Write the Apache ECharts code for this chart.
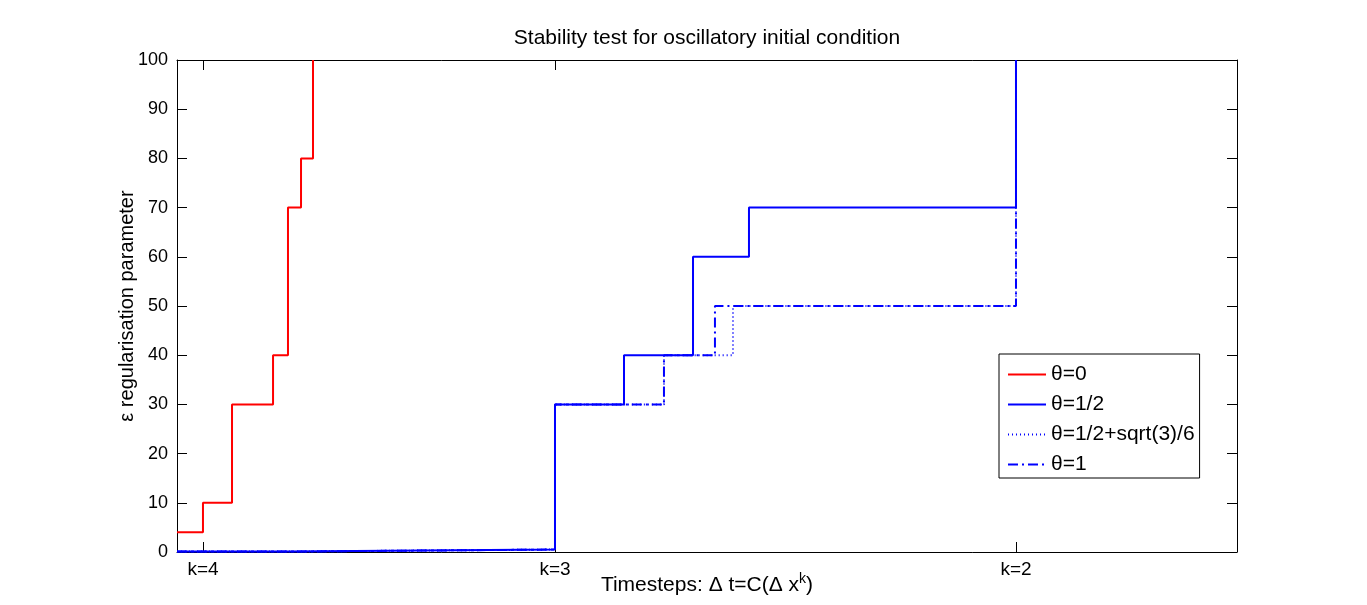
<!DOCTYPE html>
<html>
<head>
<meta charset="utf-8">
<script src="https://cdn.jsdelivr.net/npm/echarts@6/dist/echarts.min.js"></script>
<style>
  html, body { margin:0; padding:0; background:#fff; }
  #chart { width:1367px; height:605px; }
</style>
</head>
<body>
<div id="chart"></div>
<script>
// ---- data (x in plot-position units, 0..100) ----
const kTicks  = [2.45, 35.66, 79.15];
const kLabels = ['k=4', 'k=3', 'k=2'];

const theta0X  = [0, 2.45, 5.19, 9.06, 10.47, 11.70, 12.83];
const theta0Y  = [4, 10, 30, 40, 70, 80, 100];

const halfX    = [0, 10.47, 35.66, 42.17, 48.68, 53.96, 79.15];
const halfY    = [0.1, 0.5, 30, 40, 60, 70, 100];

const sqrtX    = [0, 10.94, 35.66, 45.94, 52.45, 79.15];
const sqrtY    = [0.1, 0.5, 30, 40, 50, 100];

const oneX     = [0, 11.70, 35.66, 45.94, 50.75, 79.15];
const oneY     = [0.1, 0.5, 30, 40, 50, 100];

const FONT = 'Liberation Sans, Arial, sans-serif';
const pairs = (xs, ys) => xs.map((x, i) => [x, ys[i]]);

function stepLine(name, xs, ys, color, type){
  return {
    name, type:'line', step:'end', data:pairs(xs, ys),
    symbol:'none', clip:false, animation:false,
    itemStyle:{ color },
    lineStyle:{ color, width:2, type }
  };
}

const chart = echarts.init(document.getElementById('chart'));
const axisLine = { show:true, onZero:false, lineStyle:{ color:'#000', width:1 } };
const tick = { show:true, inside:true, length:10, lineStyle:{ color:'#000' } };

chart.setOption({
  animation:false,
  title:{
    text:'Stability test for oscillatory initial condition',
    left:702, top:23, textAlign:'center',
    textStyle:{ fontFamily:FONT, fontSize:21, fontWeight:'normal', color:'#000' }
  },
  grid:{ left:177, right:130, top:60, bottom:53, containLabel:false, outerBoundsMode:'none' },
  legend:{
    orient:'vertical', left:999, top:354,
    padding:[10, 5, 3, 8], itemGap:9, itemWidth:38, itemHeight:20,
    borderColor:'#000', borderWidth:1, backgroundColor:'#fff',
    itemStyle:{ color:'transparent', borderWidth:0, opacity:0 },
    textStyle:{ fontFamily:FONT, fontSize:21, color:'#000' },
    data:['θ=0', 'θ=1/2', 'θ=1/2+sqrt(3)/6', 'θ=1']
  },
  xAxis:[{
    type:'value', min:0, max:100, position:'bottom',
    axisLine, splitLine:{ show:false },
    axisTick:{ ...tick, customValues:kTicks },
    axisLabel:{ customValues:kTicks, margin:8, fontFamily:FONT, fontSize:19, color:'#000',
      formatter:(v)=>{ let b=0; kTicks.forEach((t,i)=>{ if(Math.abs(t-v)<Math.abs(kTicks[b]-v)) b=i; }); return kLabels[b]; } },
    name:'{b|Timesteps: Δ t=C(Δ x}{s|k}{b|)}', nameLocation:'middle', nameGap:20, nameMoveOverlap:false,
    nameTextStyle:{ rich:{
      b:{ fontFamily:FONT, fontSize:21, color:'#000' },
      s:{ fontFamily:FONT, fontSize:14, color:'#000', padding:[0,0,12,0] }
    } }
  },{
    type:'value', min:0, max:100, position:'top',
    axisLine, splitLine:{ show:false },
    axisTick:{ ...tick, customValues:kTicks },
    axisLabel:{ show:false }
  }],
  yAxis:[{
    type:'value', min:0, max:100, interval:10, position:'left',
    axisLine, splitLine:{ show:false }, axisTick:tick,
    axisLabel:{ margin:9, fontFamily:FONT, fontSize:18, color:'#000' },
    name:'ε regularisation parameter', nameLocation:'middle', nameGap:40, nameMoveOverlap:false,
    nameTextStyle:{ fontFamily:FONT, fontSize:20, color:'#000' }
  },{
    type:'value', min:0, max:100, interval:10, position:'right',
    axisLine, splitLine:{ show:false }, axisTick:tick,
    axisLabel:{ show:false }
  }],
  series:[
    stepLine('θ=0', theta0X, theta0Y, '#ff0000', 'solid'),
    stepLine('θ=1/2', halfX, halfY, '#0000ff', 'solid'),
    stepLine('θ=1/2+sqrt(3)/6', sqrtX, sqrtY, '#0000ff', [1, 3]),
    stepLine('θ=1', oneX, oneY, '#0000ff', [10, 4, 2, 4])
  ]
});
</script>
</body>
</html>
